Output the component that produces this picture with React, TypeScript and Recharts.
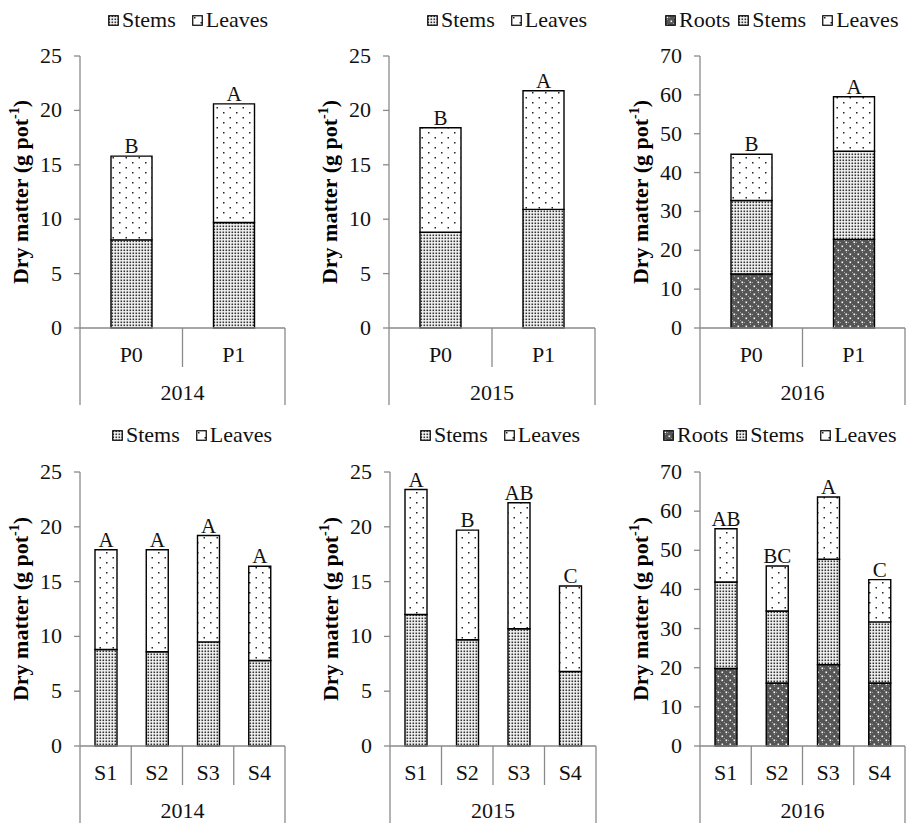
import React from "react";
import { BarChart, Bar, XAxis, YAxis, Legend, LabelList } from "recharts";

const pCategories = ["P0", "P1"];
const sCategories = ["S1", "S2", "S3", "S4"];

const stems2014P = [8.1, 9.7];
const leaves2014P = [7.7, 10.9];
const letters2014P = ["B", "A"];

const stems2015P = [8.8, 10.9];
const leaves2015P = [9.6, 10.9];
const letters2015P = ["B", "A"];

const roots2016P = [13.9, 22.8];
const stems2016P = [18.9, 22.7];
const leaves2016P = [11.9, 14.0];
const letters2016P = ["B", "A"];

const stems2014S = [8.8, 8.6, 9.5, 7.8];
const leaves2014S = [9.1, 9.3, 9.7, 8.6];
const letters2014S = ["A", "A", "A", "A"];

const stems2015S = [12.0, 9.7, 10.7, 6.8];
const leaves2015S = [11.4, 10.0, 11.5, 7.8];
const letters2015S = ["A", "B", "AB", "C"];

const roots2016S = [19.8, 16.1, 20.8, 16.1];
const stems2016S = [22.1, 18.4, 26.9, 15.6];
const leaves2016S = [13.6, 11.5, 15.9, 10.8];
const letters2016S = ["AB", "BC", "A", "C"];

const ticks25 = [0, 5, 10, 15, 20, 25];
const ticks70 = [0, 10, 20, 30, 40, 50, 60, 70];

const FONT = "Liberation Serif, Times New Roman, serif";
const AXIS = "#8a8a8a";

const Patterns = ({ prefix }: { prefix: string }) => (
  <defs>
    <pattern id={`${prefix}-leaves`} width="13" height="10" patternUnits="userSpaceOnUse">
      <rect width="13" height="10" fill="#fff" />
      <rect x="2" y="2" width="1.5" height="1.5" fill="#222" />
      <rect x="8.5" y="7" width="1.5" height="1.5" fill="#222" />
    </pattern>
    <pattern id={`${prefix}-stems`} width="3" height="3" patternUnits="userSpaceOnUse">
      <rect width="3" height="3" fill="#f4f4f4" />
      <rect x="0.5" y="0.5" width="1.6" height="1.6" fill="#333" />
    </pattern>
    <pattern id={`${prefix}-roots`} width="8" height="8" patternUnits="userSpaceOnUse">
      <rect width="8" height="8" fill="#555" />
      <rect x="0" y="0" width="1" height="1" fill="#999" />
      <rect x="2" y="4" width="1" height="1" fill="#999" />
      <rect x="4" y="2" width="1" height="1" fill="#999" />
      <rect x="6" y="6" width="1" height="1" fill="#999" />
      <rect x="1.5" y="1.5" width="1.6" height="1.6" fill="#fff" />
      <rect x="5.5" y="5.5" width="1.6" height="1.6" fill="#fff" />
    </pattern>
  </defs>
);

const seriesNames: Record<string, string> = { roots: "Roots", stems: "Stems", leaves: "Leaves" };

const YLabel = ({ viewBox }: any) => {
  const x = viewBox.x + 28;
  const y = viewBox.y + viewBox.height / 2;
  return (
    <text
      x={x}
      y={y}
      transform={`rotate(-90 ${x} ${y})`}
      textAnchor="middle"
      style={{ fontFamily: FONT, fontWeight: "bold", fontSize: 22 }}
      fill="#000"
    >
      Dry matter (g pot
      <tspan fontSize={14} dy={-9}>-1</tspan>
      <tspan dy={9}>)</tspan>
    </text>
  );
};

interface PanelProps {
  id: string;
  left?: number;
  top: number;
  axisX: number;
  plotRight: number;
  plotTop: number;
  plotBottom: number;
  height: number;
  categories: string[];
  roots?: number[];
  stems: number[];
  leaves: number[];
  letters: string[];
  year: string;
  yMax: number;
  yTicks: number[];
  barSize: number;
  legendPad: number;
  legendTop: number;
}

const Panel = (p: PanelProps) => {
  const chartLeft = p.axisX - 80;
  const width = p.plotRight - chartLeft + 2;
  const data = p.categories.map((name, i) => ({
    name,
    roots: p.roots ? p.roots[i] : undefined,
    stems: p.stems[i],
    leaves: p.leaves[i],
    letter: p.letters[i],
  }));
  const n = p.categories.length;
  const bw = (p.plotRight - p.axisX) / n;
  const xAxisHeight = p.height - (p.plotBottom - p.top);
  const keys = p.roots ? ["roots", "stems", "leaves"] : ["stems", "leaves"];

  const CatTick = ({ x, y, payload, index }: any) => {
    const lx = x - bw / 2;
    return (
      <g>
        <text x={x} y={y + 34} textAnchor="middle" style={{ fontFamily: FONT, fontSize: 22 }} fill="#111">
          {payload.value}
        </text>
        <line x1={lx} y1={y} x2={lx} y2={y + (index === 0 ? 77 : 39)} stroke={AXIS} strokeWidth={1.3} />
        {index === n - 1 && (
          <line x1={x + bw / 2} y1={y} x2={x + bw / 2} y2={y + 77} stroke={AXIS} strokeWidth={1.3} />
        )}
        {index === 0 && (
          <text x={lx + (bw * n) / 2} y={y + 72} textAnchor="middle" style={{ fontFamily: FONT, fontSize: 22 }} fill="#111">
            {p.year}
          </text>
        )}
      </g>
    );
  };

  const YTick = ({ x, y, payload }: any) => (
    <text x={x} y={y} dy={7} textAnchor="end" style={{ fontFamily: FONT, fontSize: 22 }} fill="#111">
      {payload.value}
    </text>
  );

  const renderLegend = () => (
    <div style={{ display: "flex", paddingLeft: p.legendPad, fontFamily: FONT, fontSize: 22, lineHeight: "22px" }}>
      {keys.map((k) => (
        <div key={k} style={{ display: "flex", alignItems: "center", marginRight: k === "roots" ? 8 : 16 }}>
          <svg width={11} height={11} style={{ marginRight: 3 }}>
            <Patterns prefix={`${p.id}-lg-${k}`} />
            <rect
              x={0.75}
              y={0.75}
              width={9.5}
              height={9.5}
              fill={`url(#${p.id}-lg-${k}-${k})`}
              stroke="#000"
              strokeWidth={1.2}
            />
          </svg>
          <span style={{ color: "#111" }}>{seriesNames[k]}</span>
        </div>
      ))}
    </div>
  );

  return (
    <div style={{ position: "absolute", left: chartLeft, top: p.top }}>
      <BarChart
        width={width}
        height={p.height}
        data={data}
        margin={{ top: p.plotTop - p.top, right: 2, left: 0, bottom: 0 }}
      >
        <Patterns prefix={p.id} />
        <XAxis
          dataKey="name"
          height={xAxisHeight}
          axisLine={{ stroke: AXIS, strokeWidth: 1.3 }}
          tickLine={false}
          tickSize={0}
          tickMargin={0}
          interval={0}
          tick={<CatTick />}
        />
        <YAxis
          width={80}
          domain={[0, p.yMax]}
          ticks={p.yTicks}
          interval={0}
          axisLine={{ stroke: AXIS, strokeWidth: 1.3 }}
          tickLine={{ stroke: AXIS, strokeWidth: 1.3 }}
          tickSize={6}
          tickMargin={12}
          tick={<YTick />}
          label={{ content: (lp: any) => <YLabel viewBox={lp.viewBox} /> }}
        />
        <Legend
          verticalAlign="middle"
          align="center"
          layout="horizontal"
          wrapperStyle={{ top: p.legendTop, left: 0, width: width }}
          content={renderLegend}
        />
        {p.roots && (
          <Bar
            dataKey="roots"
            name="Roots"
            stackId="a"
            barSize={p.barSize}
            fill={`url(#${p.id}-roots)`}
            stroke="#000"
            strokeWidth={1.4}
            isAnimationActive={false}
          />
        )}
        <Bar
          dataKey="stems"
          name="Stems"
          stackId="a"
          barSize={p.barSize}
          fill={`url(#${p.id}-stems)`}
          stroke="#000"
          strokeWidth={1.4}
          isAnimationActive={false}
        />
        <Bar
          dataKey="leaves"
          name="Leaves"
          stackId="a"
          barSize={p.barSize}
          fill={`url(#${p.id}-leaves)`}
          stroke="#000"
          strokeWidth={1.4}
          isAnimationActive={false}
        >
          <LabelList dataKey="letter" position="top" offset={3} style={{ fontFamily: FONT, fontSize: 21 }} fill="#111" />
        </Bar>
      </BarChart>
    </div>
  );
};

export default function App() {
  const topRow = { top: 0, plotTop: 56, plotBottom: 328, height: 410, legendTop: 9, barSize: 41 };
  const botRow = { top: 410, plotTop: 472, plotBottom: 746, height: 414, legendTop: 14, barSize: 22 };
  return (
    <div style={{ position: "absolute", left: 0, top: 0, width: 907, height: 824, background: "#fff", overflow: "hidden" }}>
      <Panel id="a" {...topRow} axisX={80} plotRight={285} categories={pCategories} stems={stems2014P} leaves={leaves2014P} letters={letters2014P} year="2014" yMax={25} yTicks={ticks25} legendPad={108} />
      <Panel id="b" {...topRow} axisX={389} plotRight={595} categories={pCategories} stems={stems2015P} leaves={leaves2015P} letters={letters2015P} year="2015" yMax={25} yTicks={ticks25} legendPad={118} />
      <Panel id="c" {...topRow} axisX={700} plotRight={905} categories={pCategories} roots={roots2016P} stems={stems2016P} leaves={leaves2016P} letters={letters2016P} year="2016" yMax={70} yTicks={ticks70} legendPad={45} />
      <Panel id="d" {...botRow} axisX={80} plotRight={285} categories={sCategories} stems={stems2014S} leaves={leaves2014S} letters={letters2014S} year="2014" yMax={25} yTicks={ticks25} legendPad={112} />
      <Panel id="e" {...botRow} axisX={390} plotRight={596} categories={sCategories} stems={stems2015S} leaves={leaves2015S} letters={letters2015S} year="2015" yMax={25} yTicks={ticks25} legendPad={110} />
      <Panel id="f" {...botRow} axisX={700} plotRight={905} categories={sCategories} roots={roots2016S} stems={stems2016S} leaves={leaves2016S} letters={letters2016S} year="2016" yMax={70} yTicks={ticks70} legendPad={43} />
    </div>
  );
}
